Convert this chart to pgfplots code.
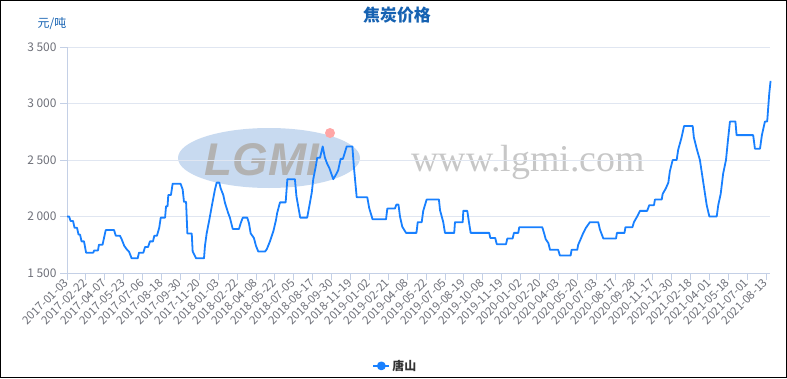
\documentclass[border=0pt]{standalone}
\usepackage{fontspec}
\setmainfont{Noto Sans CJK SC}
\newfontfamily\wmsans{Liberation Sans}
\newfontfamily\wmserif{Liberation Serif}
\usepackage{pgfplots}
\usepackage{pgfplotstable}
\pgfplotsset{compat=1.18}
\definecolor{linec}{RGB}{24,128,255}
\definecolor{titlec}{RGB}{22,98,178}
\definecolor{tickc}{RGB}{110,112,121}
\definecolor{axc}{RGB}{196,208,230}
\definecolor{gridc}{RGB}{224,230,241}
\definecolor{wmblue}{RGB}{200,218,240}

\pgfplotstableread{
x y
0.00 2000
0.11 2000
0.19 1960
0.32 1960
0.40 1900
0.53 1900
0.61 1840
0.69 1840
0.77 1780
0.90 1780
1.01 1680
1.39 1680
1.44 1700
1.64 1700
1.69 1750
1.88 1750
2.05 1880
2.49 1880
2.58 1830
2.80 1830
2.89 1800
3.03 1740
3.16 1710
3.28 1690
3.42 1630
3.74 1630
3.81 1680
4.04 1680
4.13 1730
4.29 1730
4.39 1780
4.55 1780
4.62 1830
4.76 1830
4.88 1900
4.96 1990
5.19 1990
5.24 2090
5.32 2090
5.36 2190
5.50 2190
5.59 2290
6.01 2290
6.12 2240
6.19 2130
6.30 2130
6.37 1850
6.60 1850
6.65 1690
6.83 1630
7.25 1630
7.30 1740
7.39 1850
7.53 1970
7.66 2090
7.83 2240
7.92 2300
8.06 2300
8.13 2250
8.27 2190
8.36 2120
8.53 2030
8.62 1990
8.77 1890
9.10 1890
9.19 1940
9.30 1990
9.54 1990
9.63 1940
9.72 1850
9.89 1810
10.00 1740
10.12 1690
10.48 1690
10.57 1710
10.74 1780
10.92 1870
11.06 1970
11.12 2030
11.27 2125
11.57 2125
11.66 2330
12.06 2330
12.14 2180
12.34 1990
12.71 1990
12.82 2090
12.95 2210
13.03 2330
13.16 2440
13.24 2520
13.39 2520
13.53 2620
13.65 2520
13.76 2470
13.88 2430
14.09 2330
14.23 2370
14.35 2410
14.48 2510
14.60 2510
14.71 2570
14.80 2620
15.10 2620
15.18 2440
15.33 2170
15.89 2170
15.99 2075
16.17 1975
16.88 1975
16.95 2070
17.35 2070
17.43 2105
17.54 2105
17.62 2000
17.74 1910
17.94 1855
18.49 1855
18.56 1950
18.77 1950
18.85 2050
19.03 2150
19.68 2150
19.74 2055
19.91 1950
20.00 1855
20.49 1855
20.53 1950
20.94 1950
20.97 2050
21.18 2050
21.27 1950
21.36 1855
22.34 1855
22.40 1810
22.66 1810
22.74 1755
23.23 1755
23.30 1805
23.58 1805
23.65 1855
23.88 1855
23.93 1905
25.15 1905
25.24 1855
25.33 1800
25.47 1765
25.56 1705
25.99 1705
26.08 1655
26.65 1655
26.70 1705
27.00 1705
27.05 1750
27.18 1800
27.32 1855
27.46 1900
27.67 1950
28.11 1950
28.20 1885
28.38 1805
29.05 1805
29.10 1855
29.50 1855
29.55 1905
29.92 1905
30.00 1950
30.17 2000
30.32 2050
30.70 2050
30.81 2100
31.06 2100
31.11 2150
31.47 2150
31.52 2200
31.69 2250
31.82 2300
31.90 2400
32.05 2500
32.26 2500
32.34 2590
32.52 2700
32.65 2800
33.11 2800
33.17 2700
33.32 2600
33.49 2500
33.67 2300
33.85 2100
33.99 2000
34.38 2000
34.46 2100
34.59 2200
34.72 2380
34.87 2500
34.99 2700
35.08 2840
35.37 2840
35.43 2720
36.31 2720
36.40 2600
36.67 2600
36.77 2720
36.93 2840
37.05 2840
37.16 3090
37.23 3200
}\tangshan

\begin{document}
\begin{tikzpicture}[x=1bp,y=1bp]
\useasboundingbox (0,0) rectangle (787,378);
% watermark
\fill[wmblue] (269,220) ellipse [x radius=91, y radius=30];
\node[text=black!30, font=\wmsans\bfseries\itshape\fontsize{46}{46}\selectfont] at (262,218) {LGMI};
\fill[red!35] (330,245) circle (5);
\node[anchor=west, text=black!22, font=\wmserif\fontsize{38}{38}\selectfont] at (408,216) {www.lgmi.com};

\begin{axis}[
  at={(67bp,105bp)}, anchor=south west,
  scale only axis, width=703bp, height=226bp,
  xmin=0, xmax=37.2, ymin=1500, ymax=3500,
  axis x line=bottom, axis y line=left,
  axis line style={-, draw=axc, line width=0.8bp},
  tick style={draw=axc, line width=0.8bp},
  tick align=outside, major tick length=7bp,
  ytick={1500,2000,2500,3000,3500},
  yticklabels={1 500,2 000,2 500,3 000,3 500},
  xtick={0,...,37},
  xticklabels={2017-01-03,2017-02-22,2017-04-07,2017-05-23,2017-07-06,2017-08-18,2017-09-30,2017-11-20,2018-01-03,2018-02-22,2018-04-08,2018-05-22,2018-07-05,2018-08-17,2018-09-30,2018-11-19,2019-01-02,2019-02-21,2019-04-08,2019-05-22,2019-07-05,2019-08-19,2019-10-08,2019-11-19,2020-01-02,2020-02-20,2020-04-03,2020-05-20,2020-07-03,2020-08-17,2020-09-28,2020-11-17,2020-12-30,2021-02-18,2021-04-01,2021-05-18,2021-07-01,2021-08-13},
  x tick label style={rotate=45, anchor=east, font=\fontsize{11.5}{12}\selectfont, text=tickc, inner sep=1bp},
  y tick label style={font=\fontsize{12}{12}\selectfont, text=tickc},
  ymajorgrids, grid style={draw=gridc, line width=0.8bp},
  clip=false,
  legend style={at={(0.467,-0.411)}, anchor=center, draw=none, fill=none,
    font=\bfseries\fontsize{12}{12}\selectfont, text=black!80},
  legend image code/.code={
    \draw[linec, line width=2bp] (0bp,0bp) -- (16bp,0bp);
    \fill[linec] (8bp,0bp) circle (3.5bp);
  },
]
\addplot[linec, line width=1.8bp, line join=round, no markers] table[x=x, y=y] {\tangshan};
\addlegendentry{唐山}
\end{axis}

\node[font=\bfseries\fontsize{17}{17}\selectfont, text=titlec] at (397,363) {焦炭价格};
\node[text=titlec, font=\fontsize{12}{12}\selectfont] at (52,354) {元/吨};
\draw[black, line width=1.5bp] (0.75,0.75) rectangle (786.25,377.25);
\end{tikzpicture}
\end{document}
